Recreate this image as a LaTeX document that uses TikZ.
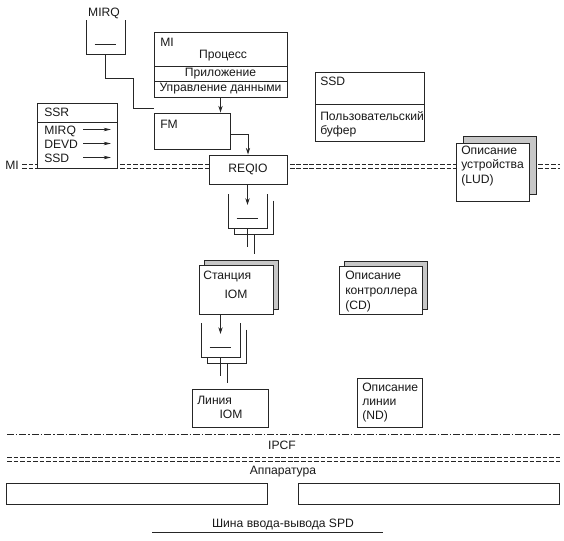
\documentclass[tikz,border=0pt]{standalone}
\usepackage{fontspec}
\setmainfont{Liberation Sans}
\usetikzlibrary{arrows.meta,shadows}

\tikzset{
  ln/.style={draw=black!85, line width=0.7pt},
  box/.style={ln, fill=white, inner sep=0pt, text=black!90},
  sz/.style 2 args={minimum width=#1*0.75pt, minimum height=#2*0.75pt},
  shbox/.style={box, drop shadow={shadow xshift=#1, shadow yshift=#1, fill=black!22, draw=black!85, line width=0.7pt, opacity=1}},
  lbl/.style={inner sep=0pt, text=black!90},
  arr/.style={-{Stealth[length=5pt,width=3.2pt]}},
  sarr/.style={-{Stealth[length=5.5pt,width=2.6pt,inset=1.6pt]}},
  dbl/.style={ln, dash pattern=on 3.5pt off 1.4pt},
  dashdot/.style={ln, dash pattern=on 5.2pt off 1.5pt on 1.1pt off 1.5pt},
  fifo/.pic={
    \draw[ln] (0,0) -- (0,34) -- (39,34) -- (39,0);
    \draw[ln] (8.5,24.5) -- (30,24.5);
    \coordinate (-in) at (19.5,11);
    \coordinate (-out) at (19.5,34);
  },
  fifotwo/.pic={
    \draw[ln] (0,0) -- (0,34) -- (39,34) -- (39,0);
    \draw[ln] (8.5,24.5) -- (30,24.5);
    \draw[ln] (45,6.5) -- (45,40.5) -- (6.5,40.5) -- (6.5,34);
    \draw[ln] (19.5,34) -- (19.5,53);
    \draw[ln] (26,40.5) -- (26,60);
    \coordinate (-in) at (19.5,11);
  }
}

\begin{document}
\begin{tikzpicture}[x=0.75pt,y=0.75pt,yscale=-1,xscale=1,font=\fontsize{9.1}{11}\selectfont]
\useasboundingbox (0,0) rectangle (564,540);

%MI level line
\draw[dbl] (22,164.5) -- (560,164.5);
\draw[dbl] (22,168) -- (560,168);
\node[lbl, anchor=base west] (milevel) at (5,169) {MI};

%Queue MIRQ
\pic[transform shape] (qm) at (86,20) {fifo};
\node[lbl, anchor=base] (qmt) at (104,16) {MIRQ};

%MI process
\node[box, sz={133}{34}] (mitop) at (220.5,49) {};
\node[box, sz={133}{15}] (miapp) at (220.5,73.5) {Приложение};
\node[box, sz={133}{16}] (midata) at (220.5,89) {Управление данными};
\node[lbl, anchor=base west] (mit) at (160,46) {MI};
\node[lbl, anchor=base] (proc) at (223,58) {Процесс};

%FM and REQIO
\node[box, sz={76}{36}] (fm) at (192,131) {};
\node[lbl, anchor=base west] (fmt) at (160,128) {FM};
\node[box, sz={78}{29}] (reqio) at (248,169.5) {REQIO};
\coordinate (fmin) at ([yshift=-3pt]fm.north west);

%SSR
\node[box, sz={80}{19}] (ssrhead) at (77,112.5) {};
\node[box, sz={80}{46}] (ssrbody) at (77,145) {};
\node[lbl, anchor=base west] (ssrt) at (44,116) {SSR};
\foreach \y/\t in {134/MIRQ,148/DEVD,162/SSD}{
  \node[lbl, anchor=base west] (ssr\t) at (44,\y) {\t};
  \draw[ln, sarr] (83,\y-4.5) -- (111,\y-4.5);
}

%SSD
\node[box, sz={109}{32}] (ssdtop) at (369.5,88) {};
\node[box, sz={109}{37}] (ssdbuf) at (369.5,122.5) {};
\node[lbl, anchor=base west] (ssdt) at (320,85) {SSD};
\node[lbl, anchor=base west] (buf1) at (320,120) {Пользовательский};
\node[lbl, anchor=base west] (buf2) at (320,134) {буфер};

%LUD
\node[shbox=5.25pt, sz={73}{58}] (lud) at (492.5,172) {};
\node[lbl, anchor=base west] (lud1) at (461,154) {Описание};
\node[lbl, anchor=base west] (lud2) at (461,168.5) {устройства};
\node[lbl, anchor=base west] (lud3) at (461,183) {(LUD)};

%Queues
\pic[transform shape] (q1) at (228,194) {fifotwo};
\pic[transform shape] (q2) at (201,323) {fifotwo};

%Station IOM
\node[shbox=3.75pt, sz={74}{49}] (stat) at (236,289.5) {};
\node[lbl, anchor=base west] (stat1) at (203,279) {Станция};
\node[lbl, anchor=base] (stat2) at (236,298) {IOM};

%CD
\node[shbox=3.75pt, sz={83}{48}] (cd) at (380.5,290) {};
\node[lbl, anchor=base west] (cd1) at (345,279) {Описание};
\node[lbl, anchor=base west] (cd2) at (345,294) {контроллера};
\node[lbl, anchor=base west] (cd3) at (345,309) {(CD)};

%Line IOM
\node[box, sz={76}{38}] (line) at (230,408) {};
\node[lbl, anchor=base west] (line1) at (197,404) {Линия};
\node[lbl, anchor=base] (line2) at (231,418) {IOM};

%ND
\node[box, sz={65}{49}] (nd) at (389.5,402.5) {};
\node[lbl, anchor=base west] (nd1) at (362,391) {Описание};
\node[lbl, anchor=base west] (nd2) at (362,405) {линии};
\node[lbl, anchor=base west] (nd3) at (362,419) {(ND)};

%Connectors
\draw[ln] (qm-out) |- (133,78) |- (fmin);
\draw[ln, arr] (midata.south) -- (midata.south |- fm.north);
\draw[ln, arr] ([yshift=2.25pt]fm.east) -| (reqio.north);
\draw[ln, arr] (q1-in |- reqio.south) -- (q1-in);
\draw[ln, arr] (q2-in |- stat.south) -- (q2-in);

%IPCF and hardware
\draw[dashdot] (7,434.5) -- (560,434.5);
\node[lbl, anchor=base] (ipcf) at (282,449) {IPCF};
\draw[dbl] (7,457.5) -- (560,457.5);
\draw[dbl] (7,461) -- (560,461);
\node[lbl, anchor=base] (hw) at (283,474) {Аппаратура};
\node[box, sz={261}{21}] (hwl) at (136.5,493.5) {};
\node[box, sz={261}{21}] (hwr) at (428.5,493.5) {};
\node[lbl, anchor=base] (spd) at (283,527) {Шина ввода-вывода SPD};
\draw[ln] (152,532) -- (383,532);

\end{tikzpicture}
\end{document}
